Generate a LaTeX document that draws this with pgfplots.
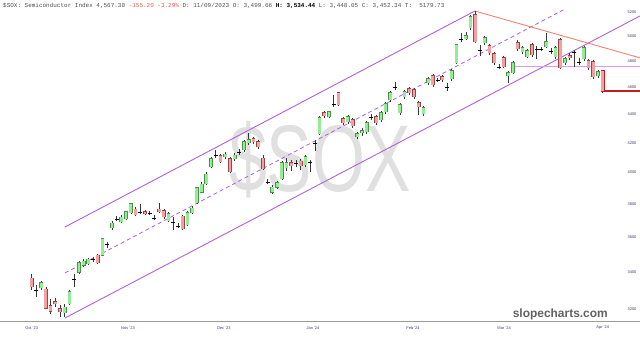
\documentclass[border=0pt]{standalone}
\usepackage{pgfplots}
\pgfplotsset{compat=1.18}
\usepackage{pgfplotstable}
\usepackage{fontspec}
\setmainfont{Liberation Sans}
\newfontfamily\monof{Liberation Mono}

\definecolor{upfill}{RGB}{150,236,150}
\definecolor{upedge}{RGB}{70,150,70}
\definecolor{dnfill}{RGB}{244,160,160}
\definecolor{dnedge}{RGB}{150,70,70}
\definecolor{wickc}{RGB}{55,55,55}
\definecolor{purp}{RGB}{176,96,224}
\definecolor{salm}{RGB}{240,130,112}
\definecolor{pinkl}{RGB}{232,150,232}
\definecolor{dred}{RGB}{190,30,30}
\definecolor{tickc}{RGB}{60,60,110}
\definecolor{hdr}{RGB}{80,80,80}
\definecolor{hred}{RGB}{230,90,90}
\definecolor{wm}{RGB}{224,224,224}

% candles: i = trading-day index, o h l c
\pgfplotstableread{
i o h l c
2 3313 3351 3302 3340
7 3180 3227 3159 3211
8 3227 3302 3222 3291
10 3400 3462 3389 3451
11 3439 3473 3428 3462
12 3445 3479 3439 3473
15 3496 3595 3490 3589
17 3654 3696 3642 3684
19 3690 3732 3684 3720
20 3708 3757 3702 3751
21 3745 3806 3739 3800
29 3696 3751 3690 3739
33 3672 3757 3666 3745
34 3745 3788 3739 3775
35 3806 3907 3800 3901
36 3875 3939 3869 3926
37 3926 4004 3920 3991
38 4037 4103 4030 4090
41 4103 4137 4090 4123
43 4090 4130 4076 4116
45 4150 4219 4137 4205
46 4198 4267 4184 4219
51 3875 3920 3862 3907
52 3907 3946 3894 3933
53 3959 4076 3952 4063
54 4030 4096 4010 4063
58 4050 4116 4037 4103
61 4260 4387 4253 4373
63 4380 4424 4373 4416
67 4345 4395 4331 4380
69 4240 4274 4226 4260
70 4267 4302 4246 4281
71 4274 4352 4260 4338
74 4359 4424 4345 4409
75 4416 4489 4402 4474
76 4504 4570 4489 4556
78 4409 4482 4395 4467
79 4526 4578 4511 4563
83 4402 4460 4387 4445
84 4631 4676 4615 4661
89 4661 4738 4646 4722
90 4785 4935 4777 4927
92 4976 5033 4967 5000
93 5067 5175 5049 5158
96 4943 5000 4927 4984
101 4684 4722 4631 4707
102 4707 4800 4699 4785
104 4871 4919 4855 4903
105 4832 4895 4824 4879
109 4911 5025 4903 4951
111 4832 4919 4816 4903
113 4785 4832 4769 4816
117 4816 4919 4800 4903
120 4684 4730 4669 4715
}\up

\pgfplotstableread{
i o h l c
0 3367 3389 3302 3318
3 3307 3318 3201 3206
4 3217 3254 3175 3190
5 3238 3259 3211 3227
6 3201 3222 3159 3185
14 3496 3502 3445 3451
22 3769 3781 3726 3732
24 3751 3763 3732 3739
27 3769 3806 3745 3751
28 3757 3769 3708 3720
32 3726 3732 3642 3648
40 4110 4123 4063 4070
42 4090 4103 3998 4004
47 4226 4240 4191 4205
48 4205 4219 4157 4171
49 4096 4116 4017 4024
55 4063 4083 4010 4043
57 4076 4090 4017 4043
62 4409 4424 4373 4387
65 4556 4563 4460 4467
66 4366 4380 4323 4338
68 4359 4373 4302 4316
73 4380 4395 4323 4338
80 4585 4600 4541 4556
81 4578 4593 4511 4526
82 4482 4496 4395 4452
85 4684 4699 4600 4615
87 4676 4691 4638 4653
94 5175 5208 4943 4951
97 4919 4935 4847 4863
98 4855 4871 4769 4785
100 4824 4840 4746 4753
103 4943 4967 4879 4895
106 4927 4943 4832 4847
112 4967 4984 4738 4746
114 4840 4863 4808 4824
118 4800 4816 4730 4746
119 4792 4808 4661 4676
}\down

\pgfplotstableread{
i o h l c
1 3302 3329 3264 3302
9 3362 3389 3318 3362
13 3473 3485 3456 3473
16 3559 3571 3536 3559
18 3708 3726 3696 3708
23 3751 3800 3739 3751
25 3745 3757 3732 3745
26 3714 3732 3702 3714
30 3690 3720 3642 3690
31 3666 3684 3654 3666
39 4116 4150 4096 4116
44 4137 4157 4116 4137
50 3939 3959 3926 3939
56 4063 4083 4037 4063
59 4070 4083 4004 4070
60 4198 4219 4143 4198
64 4474 4541 4452 4474
72 4380 4402 4359 4380
77 4600 4638 4578 4600
86 4653 4669 4638 4653
88 4600 4631 4570 4600
91 4976 5025 4951 4976
95 4887 4927 4840 4887
99 4753 4777 4738 4753
107 4895 4919 4816 4895
108 4895 4911 4879 4895
110 4879 4903 4855 4879
115 4871 4887 4753 4871
116 4792 4824 4769 4792
}\doji

\pgfplotstableread{
i o h l c
121 4722 4730 4556 4567.3
}\last

\pgfplotsset{
  wick/.style={draw=none, mark=none, forget plot,
    error bars/.cd, y dir=plus, y explicit, error mark=none,
    error bar style={draw=wickc, line width=0.6bp, solid}},
  body/.style 2 args={draw=none, mark=none, forget plot,
    error bars/.cd, y dir=plus, y explicit, error mark=none,
    error bar style={draw=#1, line width=#2, solid}},
}

\begin{document}
\begin{tikzpicture}[x=1bp,y=1bp]
\useasboundingbox (0,-15) rectangle (640,321);
% watermark
\node[text=wm, font=\fontsize{95}{95}\selectfont, xscale=0.72, inner sep=0] at (320,161) {\$SOX};
% header
\node[anchor=west, inner sep=0, font=\monof\fontsize{6}{6}\selectfont, text=hdr] at (3,315)
  {\$SOX: Semiconductor Index 4,567.30 \textcolor{hred}{-155.20 -3.29\%} D: 11/09/2023 O: 3,499.66 \textcolor{black}{\textbf{H: 3,534.44}} L: 3,448.05 C: 3,452.34 T:\ \ 5179.73};
% site label
\node[anchor=base east, inner sep=0, font=\bfseries\fontsize{12}{12}\selectfont, text=black!62] at (608,4) {slopecharts.com};

\begin{axis}[
  at={(0,0)}, anchor=south west,
  scale only axis, width=640bp, height=321bp,
  xmin=-6.72, xmax=128.9,
  ymode=log, ymin=3139, ymax=5303,
  axis line style={draw=none},
  major tick length=0, minor tick length=0,
  xtick={0,20.4,40.7,59.6,80.8,100.1,121},
  xticklabels={Oct '23,Nov '23,Dec '23,Jan '24,Feb '24,Mar '24,Apr '24},
  xticklabel style={font=\fontsize{4}{4}\selectfont, text=tickc, anchor=center, inner sep=0pt, yshift=-7bp},
  ytick={3200,3400,3600,3800,4000,4200,4400,4600,4800,5000,5200},
  yticklabels={3200,3400,3600,3800,4000,4200,4400,4600,4800,5000,5200},
  yticklabel pos=right,
  yticklabel style={font=\fontsize{4}{4}\selectfont, text=tickc, anchor=center, inner sep=0pt, xshift=-8bp},
  minor ytick={},
]
% trend lines
\addplot[purp, line width=0.9bp] coordinates {(7.05,3660) (93.9,5208)};
\addplot[purp, line width=0.8bp, dash pattern=on 4bp off 3bp] coordinates {(7.05,3395) (112.6,5217)};
\addplot[purp, line width=0.9bp] coordinates {(7.05,3154) (128.9,5166)};
\addplot[salm, line width=0.9bp] coordinates {(93.9,5208) (128.9,4824)};
\addplot[pinkl, line width=0.9bp] coordinates {(102.4,4753) (128.9,4753)};
\addplot[dred, line width=2bp] coordinates {(121,4567.3) (128.9,4567.3)};

% up candles
\addplot[wick] table[x=i, y=l, y error plus expr=\thisrow{h}-\thisrow{l}] {\up};
\addplot[body={upedge}{3.8bp}] table[x=i, y expr=\thisrow{o}*0.9992, y error plus expr=\thisrow{c}*1.0008-\thisrow{o}*0.9992] {\up};
\addplot[body={upfill}{2.8bp}] table[x=i, y=o, y error plus expr=\thisrow{c}-\thisrow{o}] {\up};
% down candles
\addplot[wick] table[x=i, y=l, y error plus expr=\thisrow{h}-\thisrow{l}] {\down};
\addplot[body={dnedge}{3.8bp}] table[x=i, y expr=\thisrow{c}*0.9992, y error plus expr=\thisrow{o}*1.0008-\thisrow{c}*0.9992] {\down};
\addplot[body={dnfill}{2.8bp}] table[x=i, y=c, y error plus expr=\thisrow{o}-\thisrow{c}] {\down};
% doji
\addplot[wick] table[x=i, y=l, y error plus expr=\thisrow{h}-\thisrow{l}] {\doji};
\addplot[only marks, mark=-, mark size=2bp, mark options={draw=black, line width=0.6bp}, forget plot] table[x=i, y=o] {\doji};
% last candle
\addplot[wick] table[x=i, y=l, y error plus expr=\thisrow{h}-\thisrow{l}] {\last};
\addplot[body={dred}{4.4bp}] table[x=i, y expr=\thisrow{c}*0.9985, y error plus expr=\thisrow{o}*1.0015-\thisrow{c}*0.9985] {\last};
\addplot[body={dnfill}{2.6bp}] table[x=i, y=c, y error plus expr=\thisrow{o}-\thisrow{c}] {\last};
\end{axis}
\draw[black!40, line width=1bp] (0,0) -- (640,0);
\end{tikzpicture}
\end{document}
